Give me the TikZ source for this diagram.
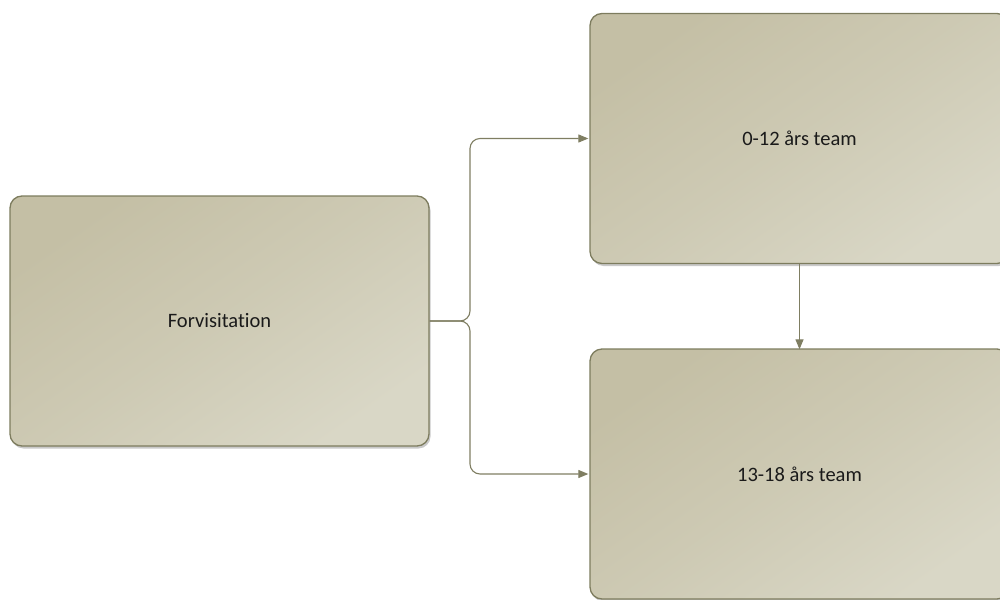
\documentclass[tikz,border=0pt]{standalone}
\usepackage{fontspec}
\setmainfont{Carlito}[Ligatures={NoCommon}]
\usetikzlibrary{arrows.meta,shadows}
\definecolor{boxdark}{HTML}{C4BFA5}
\definecolor{boxlight}{HTML}{D9D7C6}
\definecolor{boxborder}{HTML}{7D7C5E}
\definecolor{linecol}{HTML}{7F7E62}
\definecolor{txt}{HTML}{1A1A1A}
\tikzset{
  box/.style={draw=boxborder, line width=1.3pt, rounded corners=12pt,
    minimum width=419pt, minimum height=250pt, inner sep=0pt,
    top color=boxdark, bottom color=boxlight, middle color=boxdark!55!boxlight, shading angle=35,
    text=txt, font=\fontsize{20.5}{24}\selectfont,
    drop shadow={shadow xshift=1.5pt, shadow yshift=-2.5pt, fill=black!30, opacity=0.7}},
  conn/.style={draw=linecol, line width=1.1pt, -{Triangle[length=10pt,width=8pt]}}
}
\begin{document}
\begin{tikzpicture}[x=1pt,y=-1pt]
\useasboundingbox (0,0) rectangle (1000,599);
\node[box] (fv) at (219.5,321) {Forvisitation};
\node[box] (t1) at (799.5,138.5) {0-12 års team};
\node[box] (t2) at (799.5,474) {13-18 års team};
\coordinate (fork) at (470,321);
\draw[conn, rounded corners=10pt] (fv.east) -- (fork) |- ([xshift=-1pt]t1.west);
\draw[conn, rounded corners=10pt] (fv.east) -- (fork) |- ([xshift=-1pt]t2.west);
\draw[conn] (t1.south) -- ([yshift=-1pt]t2.north);
\end{tikzpicture}
\end{document}
